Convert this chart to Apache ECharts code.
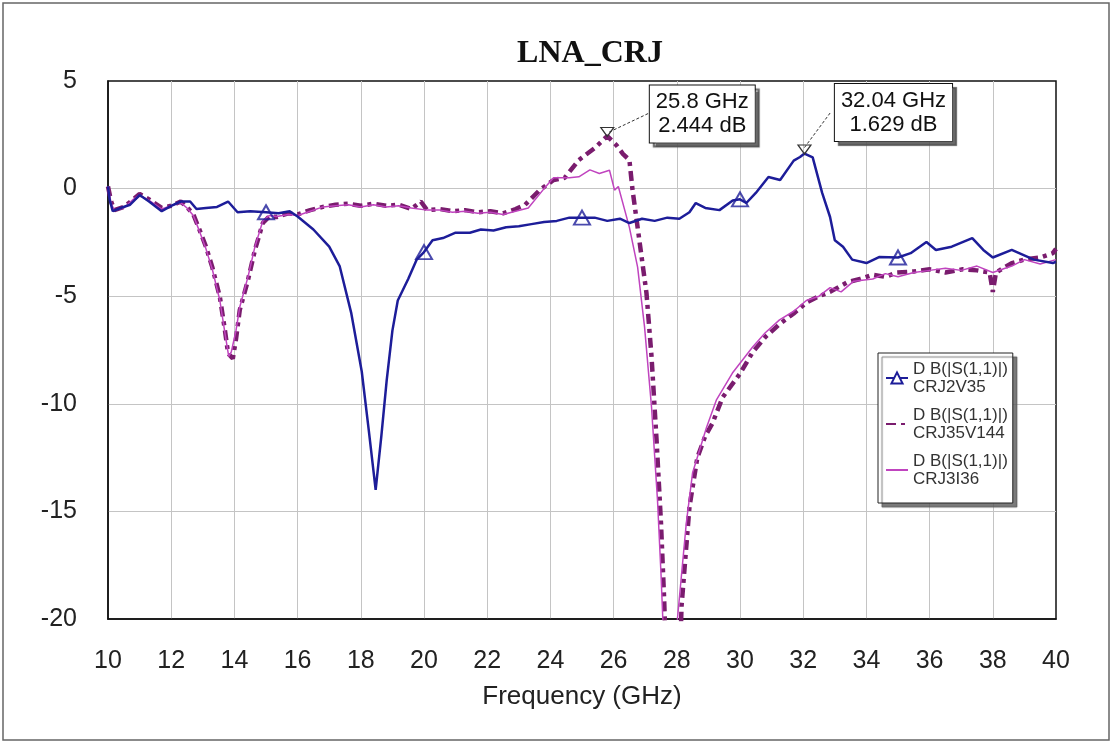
<!DOCTYPE html>
<html><head><meta charset="utf-8">
<script src="https://cdn.jsdelivr.net/npm/echarts@6/dist/echarts.min.js"></script>
<style>html,body{margin:0;padding:0;background:#fff}#c{width:1115px;height:744px}</style>
</head><body><div id="c"></div>
<script>
// ---- data (frequency GHz, dB) ----
const seriesNames = ['CRJ2V35', 'CRJ35V144', 'CRJ3I36'];
const legendTitle = 'D B(|S(1,1)|)';

const crj2v35 = [[10.0,0.1],[10.05,-0.5],[10.15,-1.05],[10.4,-0.9],[10.7,-0.75],[11.0,-0.3],[11.3,-0.6],[11.7,-1.05],[12.0,-0.8],[12.3,-0.6],[12.6,-0.6],[12.8,-0.95],[13.1,-0.9],[13.45,-0.85],[13.8,-0.6],[14.1,-1.1],[14.5,-1.05],[15.0,-1.1],[15.4,-1.15],[15.75,-1.05],[16.0,-1.3],[16.5,-1.9],[17.0,-2.7],[17.33,-3.6],[17.7,-5.8],[18.03,-8.5],[18.25,-11.2],[18.47,-14.0],[18.65,-11.5],[18.82,-8.9],[19.0,-6.6],[19.17,-5.2],[19.5,-4.2],[19.77,-3.3],[20.0,-2.95],[20.27,-2.4],[20.6,-2.3],[21.0,-2.05],[21.45,-2.05],[21.8,-1.9],[22.2,-1.95],[22.6,-1.8],[23.0,-1.75],[23.4,-1.65],[23.8,-1.55],[24.2,-1.5],[24.6,-1.35],[25.0,-1.35],[25.4,-1.35],[25.8,-1.5],[26.2,-1.4],[26.5,-1.6],[26.9,-1.4],[27.3,-1.5],[27.7,-1.35],[28.08,-1.4],[28.4,-1.1],[28.6,-0.67],[28.9,-0.9],[29.35,-1.0],[29.77,-0.55],[30.0,-0.5],[30.2,-0.67],[30.5,-0.2],[30.9,0.54],[31.27,0.4],[31.7,1.3],[31.9,1.47],[32.04,1.629],[32.3,1.45],[32.6,-0.2],[32.85,-1.32],[33.0,-2.4],[33.26,-2.7],[33.55,-3.3],[34.0,-3.46],[34.4,-3.18],[35.0,-3.2],[35.4,-3.0],[35.9,-2.48],[36.2,-2.85],[36.7,-2.7],[37.35,-2.3],[37.7,-2.85],[38.0,-3.2],[38.6,-2.85],[39.3,-3.3],[39.9,-3.46],[40.0,-3.4]];

const crj35v144 = [[10.0,0.1],[10.1,-0.6],[10.2,-1.0],[10.5,-0.85],[10.8,-0.5],[11.0,-0.25],[11.3,-0.5],[11.7,-0.9],[12.0,-0.8],[12.3,-0.6],[12.5,-0.86],[12.7,-1.2],[12.9,-1.93],[13.1,-2.7],[13.3,-3.65],[13.54,-5.04],[13.7,-6.58],[13.8,-7.65],[13.95,-7.9],[14.05,-7.0],[14.17,-5.64],[14.43,-4.25],[14.65,-2.85],[14.9,-1.6],[15.1,-1.3],[15.34,-1.32],[15.7,-1.15],[16.0,-1.2],[16.4,-1.0],[16.8,-0.85],[17.2,-0.75],[17.6,-0.7],[18.0,-0.8],[18.4,-0.7],[18.8,-0.8],[19.2,-0.75],[19.6,-0.95],[19.9,-0.6],[20.1,-1.0],[20.5,-0.95],[20.9,-1.05],[21.3,-1.0],[21.7,-1.1],[22.1,-1.05],[22.5,-1.15],[22.9,-0.95],[23.2,-0.75],[23.66,-0.07],[24.1,0.4],[24.45,0.5],[24.9,1.33],[25.4,1.88],[25.8,2.444],[26.1,2.0],[26.3,1.6],[26.5,1.33],[26.6,-0.07],[26.76,-1.8],[27.04,-4.85],[27.2,-7.8],[27.36,-11.7],[27.5,-15.55],[27.6,-19.1],[27.75,-26],[28.0,-28],[28.1,-22],[28.15,-19.4],[28.4,-14.8],[28.65,-12.5],[28.9,-11.5],[29.13,-10.9],[29.45,-9.7],[30.0,-8.6],[30.4,-7.6],[30.8,-6.9],[31.25,-6.3],[31.7,-5.8],[32.1,-5.3],[32.5,-5.0],[32.85,-4.8],[33.4,-4.35],[33.8,-4.2],[34.2,-4.0],[34.6,-4.1],[34.97,-3.9],[35.5,-3.85],[36.0,-3.75],[36.5,-3.9],[37.05,-3.75],[37.5,-3.8],[37.9,-3.9],[38.0,-4.8],[38.1,-3.9],[38.6,-3.46],[39.0,-3.3],[39.5,-3.2],[39.9,-3.0],[40.0,-2.8]];

const crj3i36 = [[10.0,0.1],[10.1,-0.7],[10.2,-1.0],[10.5,-0.9],[10.8,-0.5],[11.0,-0.3],[11.3,-0.55],[11.7,-0.95],[12.0,-0.8],[12.3,-0.65],[12.5,-0.9],[12.7,-1.25],[12.9,-2.0],[13.1,-2.8],[13.3,-3.75],[13.54,-5.2],[13.7,-6.7],[13.82,-7.8],[13.9,-7.6],[14.05,-6.6],[14.17,-5.5],[14.43,-4.1],[14.65,-2.7],[14.9,-1.5],[15.1,-1.25],[15.34,-1.3],[15.7,-1.2],[16.0,-1.25],[16.4,-1.05],[16.8,-0.85],[17.2,-0.8],[17.6,-0.75],[18.0,-0.85],[18.4,-0.75],[18.8,-0.85],[19.2,-0.8],[19.6,-0.9],[20.1,-1.0],[20.5,-1.0],[20.9,-1.1],[21.3,-1.05],[21.7,-1.15],[22.1,-1.1],[22.5,-1.2],[22.9,-1.05],[23.3,-0.9],[23.8,0.0],[24.1,0.5],[24.6,0.5],[24.9,0.55],[25.25,0.87],[25.55,0.7],[25.87,0.85],[26.03,-0.07],[26.15,0.1],[26.5,-1.8],[26.76,-3.65],[26.98,-6.44],[27.2,-10.15],[27.39,-14.5],[27.5,-17.9],[27.56,-20.1],[27.7,-27],[27.9,-27],[28.02,-20],[28.3,-15.55],[28.5,-13.2],[28.94,-11.1],[29.25,-9.83],[29.76,-8.57],[30.4,-7.36],[30.8,-6.7],[31.25,-6.1],[31.7,-5.7],[32.1,-5.2],[32.5,-5.0],[32.85,-4.6],[33.2,-4.8],[33.6,-4.3],[34.2,-4.2],[34.6,-3.95],[35.0,-4.1],[35.5,-3.9],[36.0,-3.8],[36.5,-3.7],[37.0,-3.8],[37.5,-3.6],[38.0,-3.9],[38.6,-3.6],[39.0,-3.3],[39.5,-3.5],[40.0,-3.3]];

// triangle markers drawn on CRJ2V35 every 5 GHz
const markerFreqs = [15, 20, 25, 30, 35];
// peak readouts
const peakFreq = [25.8, 32.04];
const peakDb = [2.444, 1.629];

const C_BLUE = '#1d1d99', C_DASH = '#7a1c6e', C_PINK = '#c044bf';
const FONT = 'Liberation Sans, Arial, sans-serif';

const blueMarkers = crj2v35.filter(p => markerFreqs.indexOf(p[0]) >= 0);

function peakLabel(f, v) { return f + ' GHz\n' + v + ' dB'; }
const peakMarkStyle = {
  symbol: 'triangle', symbolRotate: 180, symbolSize: [13, 9], symbolOffset: [0, -4],
  silent: true,
  itemStyle: { color: 'rgba(0,0,0,0)', borderColor: '#333', borderWidth: 1.2 },
};
const labelBox = {
  show: true, position: 'inside', fontFamily: FONT, fontSize: 22, lineHeight: 24, color: '#111',
  backgroundColor: '#fff', borderColor: '#111', borderWidth: 1, padding: [5, 6, 4, 6],
  shadowColor: 'rgba(80,80,80,0.85)', shadowOffsetX: 4, shadowOffsetY: 4, shadowBlur: 1
};

const chart = echarts.init(document.getElementById('c'), null, { renderer: 'canvas' });
const option = {
  backgroundColor: '#fff',
  animation: false,
  title: {
    text: 'LNA_CRJ', left: 585, top: 33, textAlign: 'center',
    textStyle: { fontFamily: 'Liberation Serif, Times New Roman, serif', fontWeight: 'bold', fontSize: 32, color: '#111' }
  },
  grid: { left: 108, top: 81, right: 59, bottom: 125, show: true, borderColor: '#111', borderWidth: 1.5, containLabel: false, outerBoundsMode: 'none' },
  xAxis: {
    type: 'value', min: 10, max: 40, interval: 2,
    name: 'Frequency (GHz)', nameLocation: 'middle', nameGap: 65,
    nameTextStyle: { fontFamily: FONT, fontSize: 26, color: '#222' },
    axisLine: { show: true, onZero: false, lineStyle: { color: '#111', width: 1.5 } },
    axisTick: { show: false },
    axisLabel: { margin: 30, fontFamily: FONT, fontSize: 25, color: '#222' },
    splitLine: { show: true, showMinLine: false, showMaxLine: false, lineStyle: { color: '#c4c4c4', width: 1 } }
  },
  yAxis: {
    type: 'value', min: -20, max: 5, interval: 5,
    axisLine: { show: true, onZero: false, lineStyle: { color: '#111', width: 1.5 } },
    axisTick: { show: false },
    axisLabel: { margin: 31, fontFamily: FONT, fontSize: 25, color: '#222' },
    splitLine: { show: true, showMinLine: false, showMaxLine: false, lineStyle: { color: '#c4c4c4', width: 1 } }
  },
  legend: {
    orient: 'vertical', left: 878, top: 353,
    data: [
      { name: seriesNames[0] },
      { name: seriesNames[1], itemStyle: { opacity: 0 } },
      { name: seriesNames[2], itemStyle: { opacity: 0 } }
    ],
    formatter: n => legendTitle + '\n' + n,
    itemWidth: 22, itemHeight: 14, itemGap: 10,
    padding: [7, 5, 15, 7],
    backgroundColor: '#fff', borderColor: '#222', borderWidth: 1,
    shadowColor: 'rgba(90,90,90,0.8)', shadowOffsetX: 4, shadowOffsetY: 4, shadowBlur: 1,
    selectedMode: false,
    textStyle: { fontFamily: FONT, fontSize: 17, lineHeight: 18, color: '#333' }
  },
  series: [
    {
      name: seriesNames[1], type: 'line', data: crj35v144, symbol: 'none', z: 2,
      lineStyle: { color: C_DASH, width: 4.5, type: [10, 5, 4, 5] }, itemStyle: { color: C_DASH },
      markPoint: Object.assign({}, peakMarkStyle, {
        data: [{ coord: [peakFreq[0], peakDb[0]], label: Object.assign({}, labelBox, { offset: [95, -18], formatter: () => peakLabel(peakFreq[0], peakDb[0]) }) }]
      })
    },
    {
      name: seriesNames[2], type: 'line', data: crj3i36, symbol: 'none', z: 3,
      lineStyle: { color: C_PINK, width: 1.5 }, itemStyle: { color: C_PINK }
    },
    {
      name: seriesNames[0], type: 'line', data: crj2v35, symbol: 'emptyTriangle', showSymbol: false, z: 4,
      lineStyle: { color: C_BLUE, width: 2.5 }, itemStyle: { color: C_BLUE },
      markPoint: Object.assign({}, peakMarkStyle, {
        data: [{ coord: [peakFreq[1], peakDb[1]], label: Object.assign({}, labelBox, { offset: [89, -37], formatter: () => peakLabel(peakFreq[1], peakDb[1]) }) }]
      })
    },
    {
      name: seriesNames[0], type: 'scatter', data: blueMarkers, symbol: 'triangle', symbolSize: [16, 14], z: 5,
      itemStyle: { color: 'rgba(0,0,0,0)', borderColor: C_BLUE, borderWidth: 2 }
    }
  ]
};
chart.setOption(option);

// leader lines from peak markers to readout boxes + outer frame
const leaderOffsets = [[[2, -4], [42, -23]], [[0, -6], [26, -41]]];
const g = [{ type: 'rect', shape: { x: 3, y: 3, width: 1106, height: 737 }, style: { fill: 'none', stroke: '#666', lineWidth: 1.5 }, silent: true }];
peakFreq.forEach((f, i) => {
  const p = chart.convertToPixel({ gridIndex: 0 }, [f, peakDb[i]]);
  const o = leaderOffsets[i];
  g.push({ type: 'line', silent: true, z: 100,
    shape: { x1: p[0] + o[0][0], y1: p[1] + o[0][1], x2: p[0] + o[1][0], y2: p[1] + o[1][1] },
    style: { stroke: '#333', lineWidth: 1, lineDash: [3, 2] } });
});
chart.setOption({ graphic: g });
</script></body></html>
